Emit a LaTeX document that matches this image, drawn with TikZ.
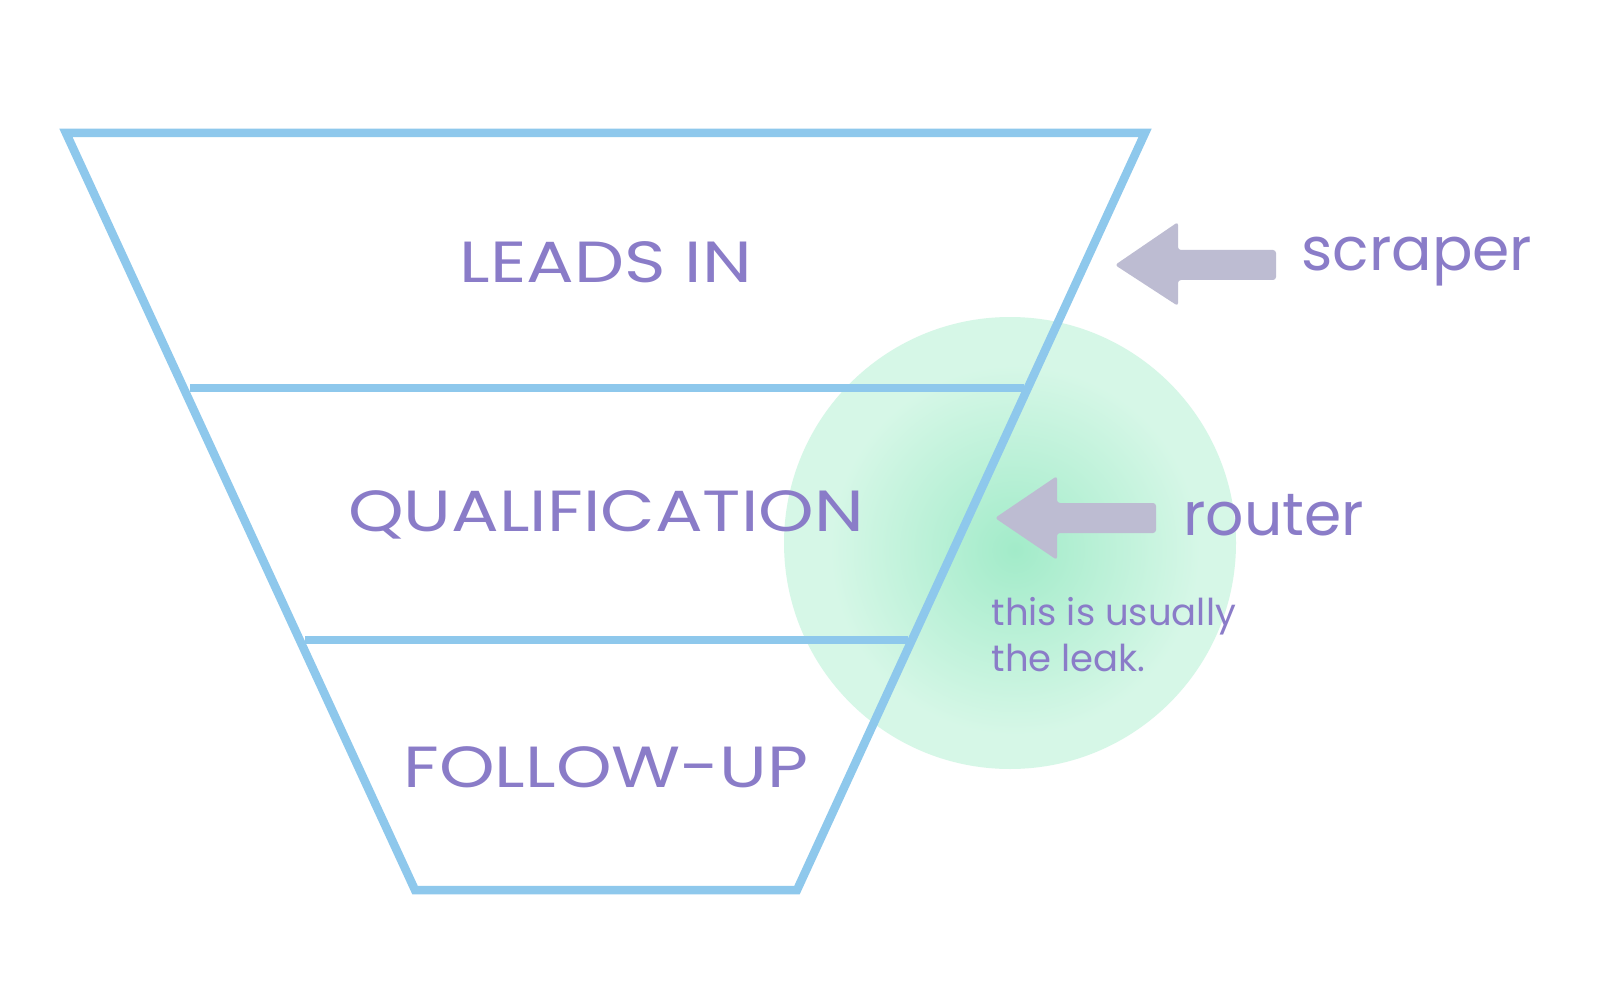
\documentclass[tikz,border=0pt]{standalone}
\usepackage{fontspec}
\setmainfont{Poppins}
\newfontfamily\wide{Poppins}[FakeStretch=1.22]
\definecolor{fun}{HTML}{8EC8EC}
\definecolor{txt}{HTML}{8A7CC8}
\definecolor{arr}{HTML}{BDBCD2}
\definecolor{glight}{HTML}{D6F7E7}
\definecolor{gdark}{HTML}{A2EBC9}
\begin{document}
\begin{tikzpicture}[x=1pt,y=-1pt,
  edge/.style={draw=fun,line width=8.5pt,line join=miter},
  stage/.style={text=txt,font=\wide\fontsize{58}{60}\selectfont},
  lbl/.style={text=txt,font=\fontsize{60}{62}\selectfont,anchor=west},
  arrow/.style={fill=arr}]
\useasboundingbox[fill=white] (0,0) rectangle (1603,1000);
% glow
\fill[glight] (1010,543) circle (226);
\shade[inner color=gdark,outer color=glight] (1015,550) circle (185);
% funnel
\draw[edge] (66,133) -- (1145,133) -- (797,890) -- (415,890) -- cycle;
\draw[edge] (190,388) -- (1024,388);
\draw[edge] (305,640) -- (908,640);
\node[stage] (leads) at (606,262) {LEADS IN};
\node[stage] (qual) at (606,515) {QUALIFICATION};
\node[stage] (fol) at (606,767) {FOLLOW-UP};
% arrows
\fill[arrow,rounded corners=3pt] (1115,265) -- (1178,222) -- (1178,250) -- (1276,250) -- (1276,280) -- (1178,280) -- (1178,306) -- cycle;
\fill[arrow,rounded corners=3pt] (995,518) -- (1057,476) -- (1057,503) -- (1156,503) -- (1156,533) -- (1057,533) -- (1057,560) -- cycle;
\node[lbl] (scraper) at (1298,262) {scraper};
\node[lbl] (router) at (1180,515) {router};
\node[text=txt,font=\fontsize{37}{46}\selectfont,anchor=north west,align=left] (note) at (988,594) {this is usually\\the leak.};
\end{tikzpicture}
\end{document}
